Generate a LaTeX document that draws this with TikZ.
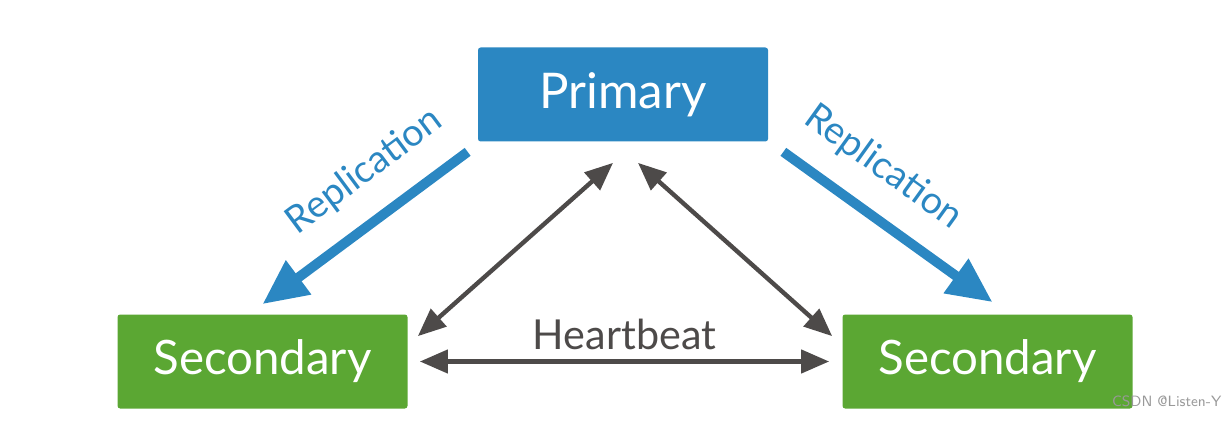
\documentclass[tikz,border=0pt]{standalone}
\usepackage{fontspec}
\setmainfont{Lato}
\usetikzlibrary{arrows.meta}

\definecolor{primblue}{RGB}{43,135,194}
\definecolor{secgreen}{RGB}{91,167,51}
\definecolor{beatgrey}{RGB}{77,74,73}

\tikzset{
  rolebox/.style={rounded corners=1.5pt, text=white, minimum width=5.8cm, minimum height=1.88cm, inner sep=0pt},
  reparrow/.style={draw=primblue, line width=5.6pt, -{Triangle[length=0.9cm,width=0.8cm]}},
  replabel/.style={text=primblue, font=\fontsize{21.5}{25}\selectfont, sloped, above=10pt},
  beatarrow/.style={draw=beatgrey, line width=2.5pt, {Triangle[length=0.56cm,width=0.46cm]}-{Triangle[length=0.56cm,width=0.46cm]}},
}

\begin{document}
\begin{tikzpicture}
\useasboundingbox (0,0) rectangle (24.52,8.4);

% Primary on top
\node[rolebox, fill=primblue, font=\fontsize{28}{32}\selectfont] (primary) at (12.46,6.51) {Primary};

% the two secondaries
\node[rolebox, fill=secgreen, font=\fontsize{27}{31}\selectfont] (secL) at (5.25,1.17) {Secondary};
\node[rolebox, fill=secgreen, font=\fontsize{27}{31}\selectfont] (secR) at (19.75,1.17) {Secondary};

% Replication arrows (blue)
\draw[reparrow] ([shift={(-0.2,-0.2)}]primary.south west) -- ([yshift=0.2cm]secL.north) node[replabel, pos=0.37] (repL) {Replication};
\draw[reparrow] ([shift={(0.3,-0.2)}]primary.south east) -- ([xshift=0.1cm, yshift=0.24cm]secR.north) node[replabel, pos=0.35] (repR) {Replication};

% Heartbeat arrows (grey)
\draw[beatarrow] ([shift={(-0.2,-0.42)}]primary.south) -- ([shift={(0.2,-0.44)}]secL.north east);
\draw[beatarrow] ([shift={(0.3,-0.42)}]primary.south) -- ([shift={(-0.2,-0.44)}]secR.north west);
\draw[beatarrow] ([xshift=0.24cm]secL.east) -- ([xshift=-0.26cm]secR.west) node[midway, above=2pt, text=beatgrey, font=\fontsize{23.5}{27}\selectfont] (beat) {Heartbeat};

% watermark
\node[text=gray!80, font=\fontsize{8.5}{10}\selectfont\sffamily, anchor=east] (mark) at (24.55,0.38) {CSDN @Listen-Y};

\end{tikzpicture}
\end{document}
